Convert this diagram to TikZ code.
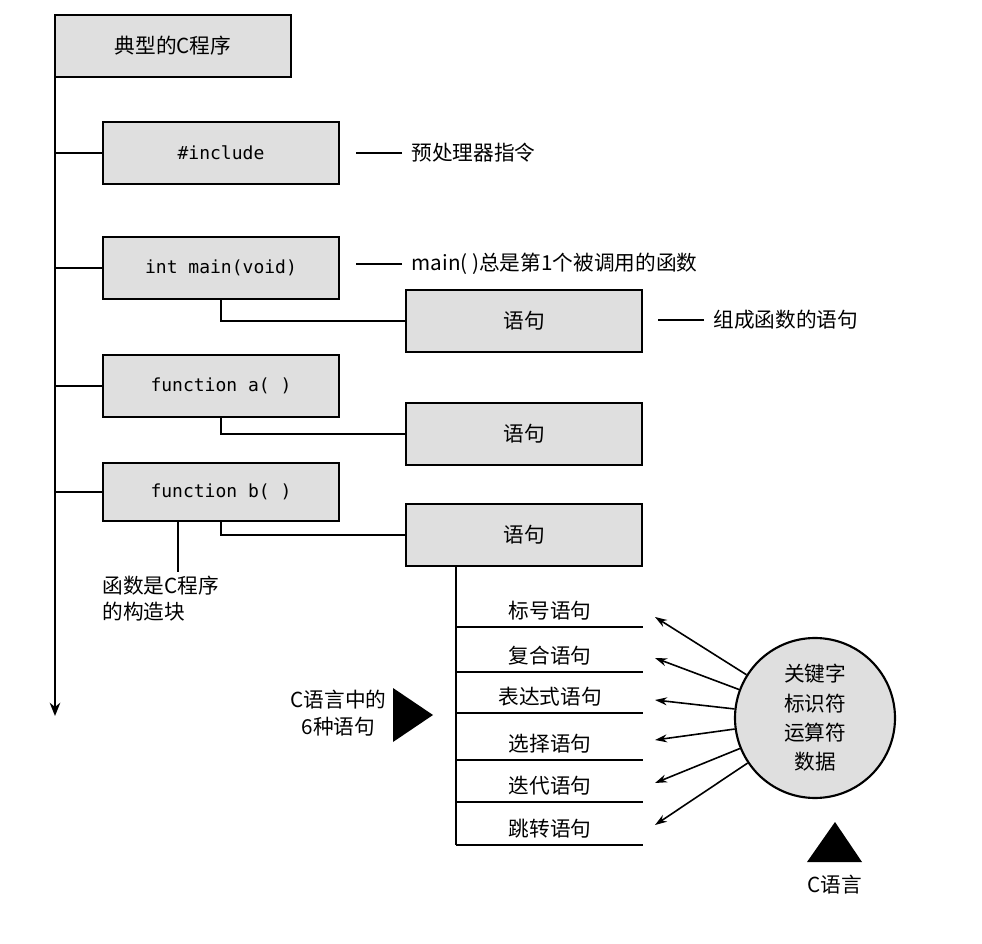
\documentclass[tikz,border=0pt]{standalone}
\usepackage{fontspec}
\setmainfont{Liberation Serif}
\setmonofont{DejaVu Sans Mono}
\newfontfamily\cjk{Noto Sans CJK SC}
\usetikzlibrary{arrows.meta}
\tikzset{
	blk/.style={draw, line width=1.6pt, fill=gray!25, minimum width=177pt, minimum height=46pt, inner sep=0pt, font=\cjk\fontsize{15.5}{18}\selectfont},
	code/.style={blk, font=\ttfamily\fontsize{13.5}{15}\selectfont},
	lbl/.style={font=\cjk\fontsize{15.5}{20}\selectfont, inner sep=1pt},
	ln/.style={line width=1.2pt},
}
\begin{document}
\begin{tikzpicture}[x=0.75pt,y=-0.75pt]
	\useasboundingbox (0,0) rectangle (982,944);

	\node [blk] (prog) at (173,46) {典型的C程序};
	\node [code] (inc) at (221,153) {\#include};
	\node [code] (main) at (221,268) {int main(void)};
	\node [code] (fa) at (221,386) {function a( )};
	\node [code, minimum height=43pt] (fb) at (221,492) {function b( )};
	\node [blk] (s1) at (524,321) {语句};
	\node [blk] (s2) at (524,434) {语句};
	\node [blk] (s3) at (524,535) {语句};

	\coordinate (end) at (55,716);
	\draw [ln, -{Stealth[length=10pt,width=8pt]}] (prog.south west -| end) -- (end);
	\foreach \n in {inc,main,fa,fb}
		\draw [ln] (\n.west -| end) -- (\n.west);
	\draw [ln] (main.south) |- (s1.west);
	\draw [ln] (fa.south) |- (s2.west);
	\draw [ln] (fb.south) |- (s3.west);

	% labels on the right
	\node [lbl, anchor=west] (t1) at (410,153) {预处理器指令};
	\draw [ln] (t1.west) ++(-8,0) -- ++(-46,0);
	\node [lbl, anchor=west] (t2) at (410,264) {main( )总是第1个被调用的函数};
	\draw [ln] (t2.west) ++(-8,0) -- ++(-46,0);
	\node [lbl, anchor=west] (t3) at (712,320) {组成函数的语句};
	\draw [ln] (t3.west) ++(-8,0) -- ++(-46,0);

	\coordinate (fbb) at (178,492);
	\draw [ln] (fbb |- fb.south) -- ++(0,50);
	\node [lbl, anchor=north west, align=left] (blocks) at (101,574) {函数是C程序\\的构造块};

	% six statements
	\coordinate (st) at (456,566);
	\draw [ln] (st) -- (456,845);
	\foreach \y/\t in {627/标号语句,672/复合语句,713/表达式语句,760/选择语句,802/迭代语句,845/跳转语句} {
		\draw [ln] (456,\y) -- (643,\y);
		\node [lbl] at (550,\y-16) {\t};
	}
	\fill (393,688) -- (433,715) -- (393,742) -- cycle;
	\node [lbl, anchor=east, align=center] (six) at (388,713) {C语言中的\\6种语句};

	% C language circle
	\node [draw, line width=1.6pt, circle, fill=gray!25, minimum size=120pt, inner sep=0pt,
		lbl, align=center, font=\cjk\fontsize{15.5}{22}\selectfont] (cl) at (815,718) {关键字\\标识符\\运算符\\数据};
	\foreach \y in {617,658,700,740,783,825}
		\draw [ln, -{Stealth[length=9pt,width=6pt]}] (cl) -- (655,\y);
	\fill (807,862) -- (835,822) -- (862,862) -- cycle;
	\node [lbl] (cname) at (835,885) {C语言};
\end{tikzpicture}
\end{document}
